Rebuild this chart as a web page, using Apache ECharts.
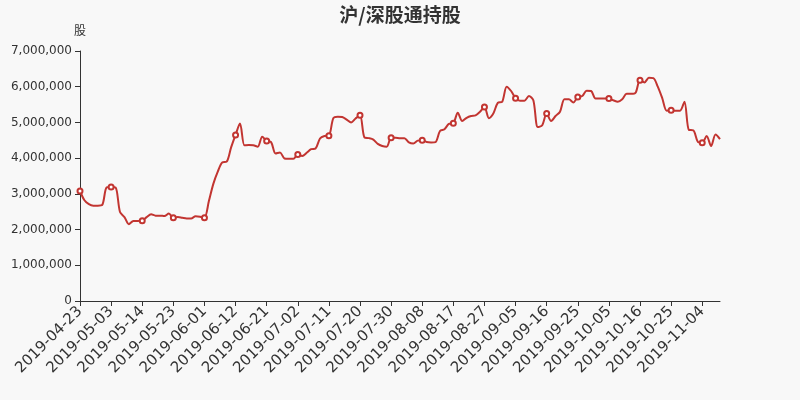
<!DOCTYPE html>
<html>
<head>
<meta charset="utf-8">
<script src="https://cdn.jsdelivr.net/npm/echarts@6/dist/echarts.min.js"></script>
<style>
html,body{margin:0;padding:0;background:#f8f8f8;}
#c{width:800px;height:400px;}
</style>
</head>
<body>
<div id="c"></div>
<script>
var titleText = '沪/深股通持股';
var yName = '股';

var dates = [
'2019-04-23',
'2019-04-24','2019-04-25','2019-04-26','2019-04-29','2019-04-30','2019-05-02','2019-05-03',
'2019-05-06','2019-05-07','2019-05-08','2019-05-09','2019-05-10','2019-05-13','2019-05-14',
'2019-05-15','2019-05-16','2019-05-17','2019-05-20','2019-05-21','2019-05-22','2019-05-23',
'2019-05-24','2019-05-27','2019-05-28','2019-05-29','2019-05-30','2019-05-31','2019-06-01',
'2019-06-03','2019-06-04','2019-06-05','2019-06-06','2019-06-10','2019-06-11','2019-06-12',
'2019-06-13','2019-06-14','2019-06-17','2019-06-18','2019-06-19','2019-06-20','2019-06-21',
'2019-06-24','2019-06-25','2019-06-26','2019-06-27','2019-06-28','2019-07-01','2019-07-02',
'2019-07-03','2019-07-04','2019-07-05','2019-07-08','2019-07-09','2019-07-10','2019-07-11',
'2019-07-12','2019-07-15','2019-07-16','2019-07-17','2019-07-18','2019-07-19','2019-07-20',
'2019-07-22','2019-07-23','2019-07-24','2019-07-25','2019-07-26','2019-07-29','2019-07-30',
'2019-07-31','2019-08-01','2019-08-02','2019-08-05','2019-08-06','2019-08-07','2019-08-08',
'2019-08-09','2019-08-12','2019-08-13','2019-08-14','2019-08-15','2019-08-16','2019-08-17',
'2019-08-19','2019-08-20','2019-08-21','2019-08-22','2019-08-23','2019-08-26','2019-08-27',
'2019-08-28','2019-08-29','2019-08-30','2019-09-02','2019-09-03','2019-09-04','2019-09-05',
'2019-09-06','2019-09-09','2019-09-10','2019-09-11','2019-09-12','2019-09-13','2019-09-16',
'2019-09-17','2019-09-18','2019-09-19','2019-09-20','2019-09-23','2019-09-24','2019-09-25',
'2019-09-26','2019-09-27','2019-09-30','2019-10-02','2019-10-03','2019-10-04','2019-10-05',
'2019-10-08','2019-10-09','2019-10-10','2019-10-11','2019-10-14','2019-10-15','2019-10-16',
'2019-10-17','2019-10-18','2019-10-21','2019-10-22','2019-10-23','2019-10-24','2019-10-25',
'2019-10-28','2019-10-29','2019-10-30','2019-10-31','2019-11-01','2019-11-02','2019-11-04',
'2019-11-05','2019-11-06','2019-11-07','2019-11-08'
];

var holdings = [
3080000,
2820000,2710000,2670000,2670000,2690000,3180000,3190000,
3180000,2490000,2350000,2150000,2240000,2240000,2250000,
2350000,2430000,2390000,2390000,2380000,2450000,2330000,
2350000,2330000,2310000,2310000,2370000,2360000,2330000,
2800000,3280000,3620000,3880000,3900000,4300000,4650000,
4970000,4360000,4370000,4360000,4320000,4600000,4480000,
4450000,4130000,4160000,3990000,3980000,3980000,4100000,
4060000,4150000,4250000,4270000,4550000,4620000,4630000,
5120000,5160000,5150000,5080000,5000000,5110000,5200000,
4580000,4560000,4520000,4400000,4340000,4320000,4570000,
4570000,4560000,4560000,4440000,4410000,4490000,4500000,
4450000,4440000,4450000,4760000,4810000,4960000,4980000,
5270000,5040000,5130000,5180000,5200000,5300000,5430000,
5120000,5250000,5550000,5580000,6000000,5880000,5680000,
5610000,5610000,5740000,5620000,4870000,4920000,5250000,
5040000,5180000,5300000,5650000,5650000,5560000,5710000,
5740000,5890000,5880000,5670000,5670000,5670000,5670000,
5620000,5580000,5650000,5800000,5800000,5830000,6180000,
6120000,6250000,6240000,6000000,5680000,5330000,5340000,
5330000,5330000,5580000,4790000,4780000,4460000,4430000,
4620000,4340000,4660000,4530000
];

var yMin = 0, yMax = 7000000, yStep = 1000000;

function addCommas(v){
  return String(v).replace(/\B(?=(\d{3})+(?!\d))/g, ',');
}

var chart = echarts.init(document.getElementById('c'), null, {renderer:'canvas'});
chart.setOption({
  backgroundColor: '#f8f8f8',
  animation: false,
  title: {
    text: titleText,
    left: 'center',
    top: 0,
    textStyle: {fontSize: 19, fontWeight: 'bold', color: '#333', fontFamily: '"Noto Sans CJK SC", sans-serif'}
  },
  grid: {left: 80, right: 80, top: 51, bottom: 99, containLabel: false},
  xAxis: {
    type: 'category',
    data: dates,
    boundaryGap: false,
    axisLine: {lineStyle: {color: '#333'}},
    axisTick: {interval: 6, lineStyle: {color: '#333'}},
    axisLabel: {interval: 6, rotate: 45, fontSize: 15, color: '#333', fontFamily: '"DejaVu Sans", sans-serif'},
    splitLine: {show: false}
  },
  yAxis: {
    type: 'value',
    name: yName,
    nameTextStyle: {fontSize: 12, color: '#333', fontFamily: '"Noto Sans CJK SC", sans-serif'},
    min: yMin, max: yMax, interval: yStep,
    axisLine: {show: true, lineStyle: {color: '#333'}},
    axisTick: {show: true, lineStyle: {color: '#333'}},
    axisLabel: {fontSize: 12, color: '#333', fontFamily: '"DejaVu Sans", sans-serif', formatter: function(v){return addCommas(v);}},
    splitLine: {show: false}
  },
  series: [{
    type: 'line',
    data: holdings,
    smooth: 0.3,
    symbol: 'emptyCircle',
    symbolSize: 5,
    showAllSymbol: 'auto',
    itemStyle: {color: '#c23531', borderWidth: 1},
    lineStyle: {width: 2, color: '#c23531'}
  }]
});
</script>
</body>
</html>
